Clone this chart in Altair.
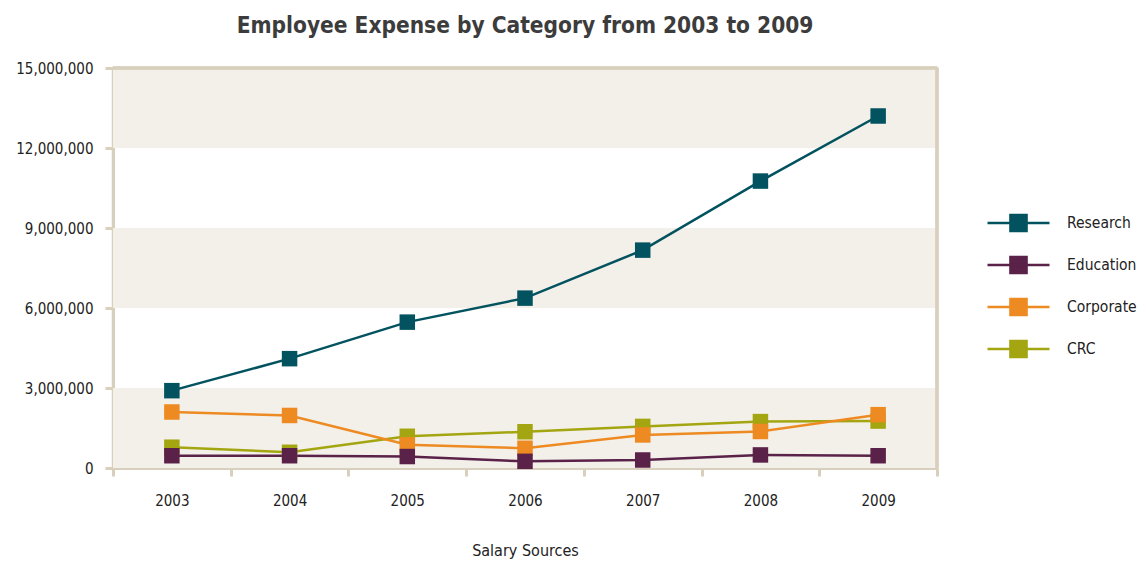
import altair as alt
import pandas as pd

years = ["2003", "2004", "2005", "2006", "2007", "2008", "2009"]
series = ["Research", "Education", "Corporate", "CRC"]
research = [2.90e6, 4.10e6, 5.47e6, 6.37e6, 8.17e6, 10.76e6, 13.20e6]
education = [0.46e6, 0.46e6, 0.43e6, 0.25e6, 0.30e6, 0.49e6, 0.46e6]
corporate = [2.10e6, 1.97e6, 0.87e6, 0.74e6, 1.24e6, 1.37e6, 2.00e6]
crc = [0.78e6, 0.59e6, 1.19e6, 1.36e6, 1.56e6, 1.74e6, 1.76e6]
colors = ["#02535F", "#5A2149", "#EE8A22", "#A3A611"]
y_ticks = [0, 3e6, 6e6, 9e6, 12e6, 15e6]
y_max = 15e6
band_lo = [0, 6e6, 12e6]
band_hi = [3e6, 9e6, 15e6]

FONT = "DejaVu Sans Condensed, Liberation Sans Narrow, Liberation Sans, sans-serif"
TAN = "#D8CFBD"

values = {"Research": research, "Education": education, "Corporate": corporate, "CRC": crc}
rows = []
for s in reversed(series):
    for y, v in zip(years, values[s]):
        rows.append({"Year": y, "Series": s, "Value": v})
df = pd.DataFrame(rows)
bands = pd.DataFrame({"lo": band_lo, "hi": band_hi})

x_enc = alt.X("Year:O", sort=years, bandPosition=0.5,
              scale=alt.Scale(type="band", paddingInner=0, paddingOuter=0),
              axis=alt.Axis(title="Salary Sources", tickBand="extent", labelAngle=0,
                            labelPadding=17, titlePadding=34))
y_scale = alt.Scale(domain=[0, y_max], nice=False)
color = alt.Color("Series:N", sort=series,
                  scale=alt.Scale(domain=series, range=colors),
                  legend=alt.Legend(title=None, orient="none", legendX=873, legendY=134,
                                    symbolType="M-1,0H1M-0.26,-0.26H0.26V0.26H-0.26Z",
                                    symbolSize=3844, symbolStrokeWidth=2.5,
                                    labelFontSize=15.5, labelFont=FONT, labelColor="#222222",
                                    labelOffset=16, rowPadding=0, clipHeight=42, padding=0))

band_layer = alt.Chart(bands).mark_rect(color="#F3F0E9").encode(
    y=alt.Y("lo:Q", scale=y_scale,
            axis=alt.Axis(values=y_ticks, format=",d", title=None, grid=False,
                          labelPadding=12)),
    y2="hi:Q",
)

top_border = alt.Chart(bands).mark_rule(color=TAN, strokeWidth=3).encode(
    y=alt.datum(y_max, scale=y_scale) if False else alt.YDatum(y_max),
)
right_border = alt.Chart(bands).mark_rule(color=TAN, strokeWidth=3).encode(
    x=alt.value({"expr": "width"}),
)

lines = alt.Chart(df).mark_line(strokeWidth=2.5).encode(
    x=x_enc,
    y=alt.Y("Value:Q", scale=y_scale),
    color=color,
    order=alt.value(0),
)
points = alt.Chart(df).mark_point(shape="square", size=240, filled=True, opacity=1).encode(
    x=x_enc,
    y=alt.Y("Value:Q", scale=y_scale),
    color=color,
)

chart = alt.layer(band_layer, top_border, right_border, lines, points).properties(
    width=824, height=400,
    padding={"left": 7, "top": 6, "right": 0, "bottom": 5},
    title=alt.Title("Employee Expense by Category from 2003 to 2009",
                    font=FONT, fontSize=22.5, fontWeight="bold", color="#3C3C3C",
                    offset=24),
).configure_view(
    stroke=TAN, strokeWidth=2.5
).configure_axis(
    domainColor=TAN, domainWidth=3, tickColor=TAN, tickWidth=3, tickSize=8,
    labelFont=FONT, labelFontSize=15, labelColor="#222222",
    titleFont=FONT, titleFontSize=16, titleFontWeight="normal", titleColor="#222222",
)

chart.save("out.html", embed_options={"renderer": "svg", "actions": False})
